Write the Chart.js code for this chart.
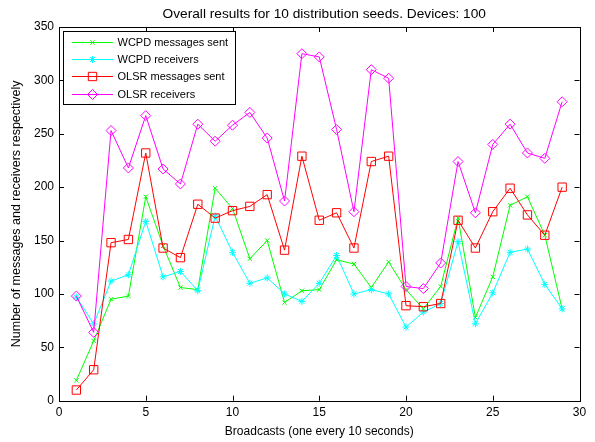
<!DOCTYPE html>
<html>
<head>
<meta charset="utf-8">
<script src="https://cdn.jsdelivr.net/npm/chart.js@4.4.1/dist/chart.umd.min.js"></script>
<style>
  body { margin: 0; background: #fff; }
  #wrap { width: 595px; height: 442px; }
</style>
</head>
<body>
<div id="wrap"><canvas id="resultsChart" width="595" height="442"></canvas></div>
<script>
const broadcasts = [1, 2, 3, 4, 5, 6, 7, 8, 9, 10, 11, 12, 13, 14, 15, 16, 17, 18, 19, 20, 21, 22, 23, 24, 25, 26, 27, 28, 29];

const wcpdSent = [19, 56, 95, 98, 191, 145, 106, 104, 199, 180, 133, 150, 92, 103, 104, 132, 128, 106, 130, 104, 86, 107, 171, 78, 116, 183, 191, 155, 86];
const wcpdReceivers = [97, 72, 112, 118, 168, 116, 121, 103, 173, 139, 110, 115, 100, 93, 110, 136, 100, 104, 100, 69, 83, 91, 149, 72, 101, 139, 142, 109, 86];
const olsrSent = [10, 29, 148, 151, 232, 143, 134, 184, 171, 178, 182, 193, 141, 229, 169, 176, 143, 224, 229, 89, 88, 91, 169, 143, 177, 199, 174, 155, 200];
const olsrReceivers = [98, 64, 253, 218, 267, 217, 203, 259, 243, 258, 270, 246, 187, 325, 322, 254, 177, 310, 302, 107, 105, 129, 224, 176, 240, 259, 232, 227, 280];

const xTicks = [0, 5, 10, 15, 20, 25, 30];
const yTicks = [0, 50, 100, 150, 200, 250, 300, 350];

const titleText = 'Overall results for 10 distribution seeds. Devices: 100';

const FONT = "'Liberation Sans', Arial, Helvetica, sans-serif";

function toPoints(values) {
  return broadcasts.map((b, i) => ({ x: b, y: values[i] }));
}

function series(label, values, color, style, radius, order) {
  return {
    label: label,
    data: toPoints(values),
    borderColor: color,
    backgroundColor: color,
    borderWidth: 1,
    pointStyle: style,
    pointRadius: radius,
    pointBorderColor: color,
    pointBackgroundColor: 'rgba(0,0,0,0)',
    pointBorderWidth: 1,
    tension: 0,
    order: order
  };
}

// box round the plot, matlab-style inward ticks on all four sides, title over the axes
const axesBox = {
  id: 'axesBox',
  afterDraw(chart) {
    const { ctx, chartArea: a, scales } = chart;
    ctx.save();
    ctx.strokeStyle = '#000';
    ctx.lineWidth = 1;
    ctx.strokeRect(Math.round(a.left) + 0.5, Math.round(a.top) + 0.5,
      Math.round(a.right - a.left), Math.round(a.bottom - a.top));
    const len = 5;
    ctx.beginPath();
    xTicks.forEach(v => {
      const px = Math.round(scales.x.getPixelForValue(v)) + 0.5;
      ctx.moveTo(px, a.bottom); ctx.lineTo(px, a.bottom - len);
      ctx.moveTo(px, a.top); ctx.lineTo(px, a.top + len);
    });
    yTicks.forEach(v => {
      const py = Math.round(scales.y.getPixelForValue(v)) + 0.5;
      ctx.moveTo(a.left, py); ctx.lineTo(a.left + len, py);
      ctx.moveTo(a.right, py); ctx.lineTo(a.right - len, py);
    });
    ctx.stroke();

    ctx.fillStyle = '#000';
    ctx.font = '13.7px ' + FONT;
    ctx.textAlign = 'center';
    ctx.textBaseline = 'middle';
    ctx.fillText(titleText, (a.left + a.right) / 2 + 5, a.top - 13);
    ctx.restore();
  }
};

// legend box inside the top left corner
const boxLegend = {
  id: 'boxLegend',
  afterDraw(chart) {
    const { ctx, chartArea: a } = chart;
    const left = a.left + 4, top = a.top + 4, w = 172, h = 73;
    ctx.save();
    ctx.fillStyle = '#fff';
    ctx.fillRect(left, top, w, h);
    ctx.strokeStyle = '#000';
    ctx.lineWidth = 1;
    ctx.strokeRect(Math.round(left) + 0.5, Math.round(top) + 0.5, w, h);
    ctx.textBaseline = 'middle';
    chart.data.datasets.forEach((ds, i) => {
      const y = Math.round(top + 11 + i * 17.2) + 0.5;
      ctx.strokeStyle = ds.borderColor;
      ctx.lineWidth = 1;
      ctx.beginPath();
      ctx.moveTo(left + 9, y);
      ctx.lineTo(left + 50, y);
      ctx.stroke();
      ctx.fillStyle = 'rgba(0,0,0,0)';
      Chart.helpers.drawPoint(ctx, {
        pointStyle: ds.pointStyle, radius: ds.pointRadius, rotation: 0, borderWidth: 1
      }, left + 29.5, y);
      ctx.fillStyle = '#000';
      ctx.font = '11px ' + FONT;
      ctx.fillText(ds.label, left + 54.5, y);
    });
    ctx.restore();
  }
};

const ctx = document.getElementById('resultsChart').getContext('2d');

new Chart(ctx, {
  type: 'line',
  data: {
    datasets: [
      series('WCPD messages sent', wcpdSent, '#00ff00', 'crossRot', 3, 4),
      series('WCPD receivers', wcpdReceivers, '#00ffff', 'star', 3.5, 3),
      series('OLSR messages sent', olsrSent, '#ff0000', 'rect', 5.9, 2),
      series('OLSR receivers', olsrReceivers, '#ff00ff', 'rectRot', 5, 1)
    ]
  },
  options: {
    responsive: false,
    animation: false,
    devicePixelRatio: 1,
    layout: { padding: { left: 0, right: 15.5, top: 27, bottom: 0 } },
    plugins: {
      legend: { display: false },
      tooltip: { enabled: false },
      title: { display: false }
    },
    scales: {
      x: {
        type: 'linear',
        min: 0,
        max: 30,
        afterFit(scale) { scale.height = 41.3; },
        afterBuildTicks(scale) { scale.ticks = xTicks.map(v => ({ value: v })); },
        grid: { display: false, drawTicks: false },
        border: { display: false },
        ticks: { color: '#000', padding: 5, font: { family: FONT, size: 12 } },
        title: {
          display: true,
          text: 'Broadcasts (one every 10 seconds)',
          color: '#000',
          font: { family: FONT, size: 12 },
          padding: { top: 0, bottom: 3 }
        }
      },
      y: {
        type: 'linear',
        min: 0,
        max: 350,
        afterFit(scale) { scale.width = 59; },
        afterBuildTicks(scale) { scale.ticks = yTicks.map(v => ({ value: v })); },
        grid: { display: false, drawTicks: false },
        border: { display: false },
        ticks: { color: '#000', padding: 5, font: { family: FONT, size: 12 } },
        title: {
          display: true,
          text: 'Number of messages and receivers respectively',
          color: '#000',
          font: { family: FONT, size: 12.5 },
          padding: { top: 9, bottom: 0 }
        }
      }
    }
  },
  plugins: [axesBox, boxLegend]
});
</script>
</body>
</html>
